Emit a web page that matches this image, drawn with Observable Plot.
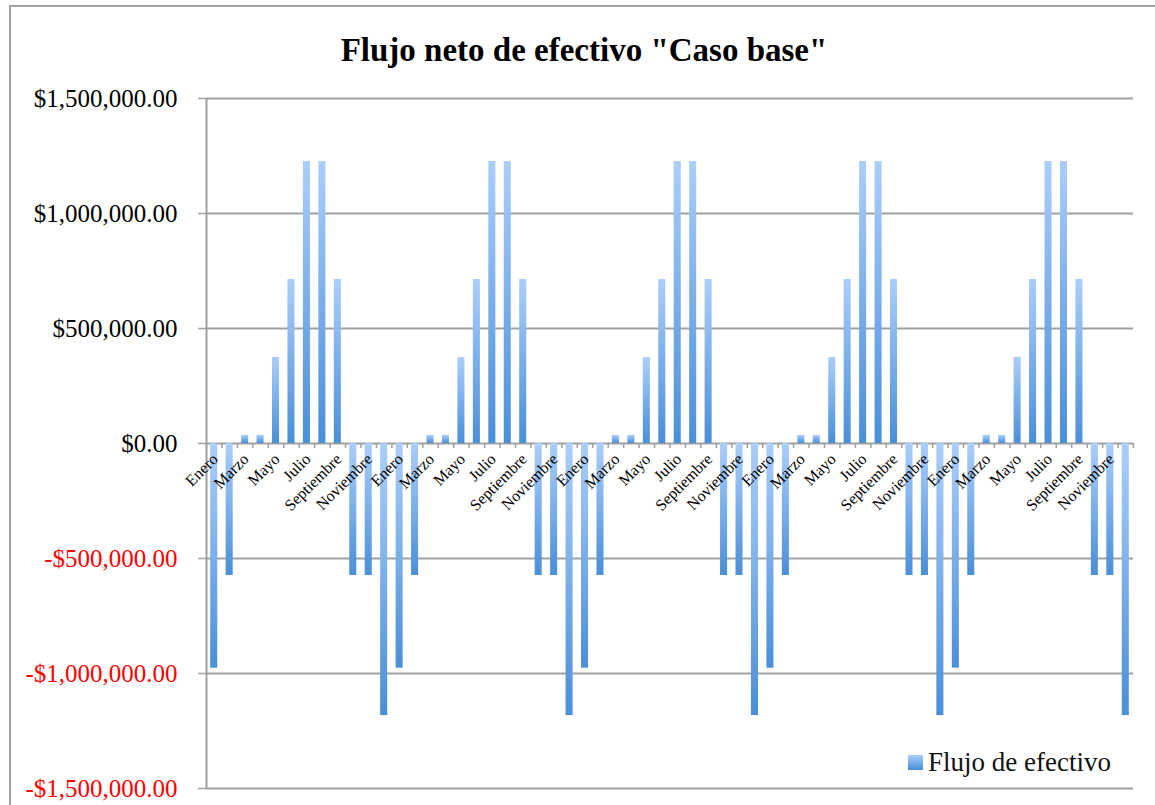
<!DOCTYPE html>
<html>
<head>
<meta charset="utf-8">
<script src="https://cdn.jsdelivr.net/npm/d3@7"></script>
<script src="https://cdn.jsdelivr.net/npm/@observablehq/plot@0.6"></script>
<style>
  html, body { margin: 0; padding: 0; background: #fff; }
  #wrap { position: relative; width: 1155px; height: 805px; overflow: hidden; font-family: "Liberation Serif", serif; }
  #frame { position: absolute; left: 9px; top: 5px; width: 1200px; height: 900px; border: 2px solid #a3a3a3; box-sizing: border-box; }
  #title { position: absolute; left: 9px; width: 1150px; top: 34px; text-align: center; font-weight: bold; font-size: 33px; line-height: 33px; color: #000; }
  #legend { position: absolute; left: 908px; top: 747px; display: flex; align-items: center; font-size: 27px; color: #111; }
  #legend .sw { width: 15px; height: 15px; background: linear-gradient(#a9cdfb, #4a8fd8); margin-right: 5px; }
  #chart { position: absolute; left: 0; top: 0; }
</style>
</head>
<body>
<div id="wrap">
  <div id="frame"></div>
  <div id="chart"></div>
  <div id="title">Flujo neto de efectivo "Caso base"</div>
  <div id="legend"><div class="sw"></div><span>Flujo de efectivo</span></div>
</div>
<script>
const meses = ["Enero","Febrero","Marzo","Abril","Mayo","Junio","Julio","Agosto","Septiembre","Octubre","Noviembre","Diciembre"];
const flujoAnio1 = [-977000, -574000, 35000, 35000, 374000, 713000, 1226000, 1226000, 713000, -574000, -574000, -1183000];
const flujoAnio2 = [-977000, -574000, 35000, 35000, 374000, 713000, 1226000, 1226000, 713000, -574000, -574000, -1183000];
const flujoAnio3 = [-977000, -574000, 35000, 35000, 374000, 713000, 1226000, 1226000, 713000, -574000, -574000, -1183000];
const flujoAnio4 = [-977000, -574000, 35000, 35000, 374000, 713000, 1226000, 1226000, 713000, -574000, -574000, -1183000];
const flujoAnio5 = [-977000, -574000, 35000, 35000, 374000, 713000, 1226000, 1226000, 713000, -574000, -574000, -1183000];
const yTicks = [-1500000, -1000000, -500000, 0, 500000, 1000000, 1500000];

const anios = [flujoAnio1, flujoAnio2, flujoAnio3, flujoAnio4, flujoAnio5];
const rows = [];
anios.forEach((serie, a) => serie.forEach((v, m) => rows.push({i: a * 12 + m, mes: meses[m], valor: v})));
const labels = rows.filter(d => d.i % 2 === 0);
const bounds = d3.range(rows.length + 1);

const fmt = v => (v < 0 ? "-$" : "$") + d3.format(",.2f")(Math.abs(v));
const gray = "#a0a0a0";

const svg = Plot.plot({
  width: 1155,
  height: 805,
  marginTop: 98,
  marginBottom: 17,
  marginLeft: 206,
  marginRight: 22,
  style: {fontFamily: "Liberation Serif, serif", fontSize: "25px", background: "transparent", overflow: "visible"},
  x: {domain: [0, rows.length], axis: null},
  y: {domain: [-1500000, 1500000], axis: null},
  marks: [
    Plot.ruleY(yTicks, {stroke: gray, strokeWidth: 2}),
    Plot.ruleX([0], {stroke: gray, strokeWidth: 2}),
    Plot.ruleX(bounds, {x: d => d, y1: 0, y2: 0, insetBottom: -5, stroke: gray, strokeWidth: 1.5}),
    Plot.axisY(yTicks.filter(t => t >= 0), {tickSize: 8, tickPadding: 21, stroke: gray, strokeWidth: 1.5, fill: "#000", tickFormat: fmt, label: null, fontSize: 25}),
    Plot.axisY(yTicks.filter(t => t < 0), {tickSize: 8, tickPadding: 21, stroke: gray, strokeWidth: 1.5, fill: "#ff0000", tickFormat: fmt, label: null, fontSize: 25}),
    Plot.rect(rows, {x1: "i", x2: d => d.i + 1, y1: 0, y2: "valor", insetLeft: 4.2, insetRight: 4.2, fill: "url(#barGrad)", ariaLabel: "barras"}),
    Plot.text(labels, {x: d => d.i + 0.5, y: 0, text: "mes", rotate: -45, textAnchor: "end", dx: 1, dy: 13, fontSize: 16, fill: "#000"})
  ]
});

const defs = d3.select(svg).insert("defs", ":first-child");
const g = defs.append("linearGradient").attr("id", "barGrad").attr("x1", 0).attr("y1", 0).attr("x2", 0).attr("y2", 1);
g.append("stop").attr("offset", "0%").attr("stop-color", "#abcefb");
g.append("stop").attr("offset", "100%").attr("stop-color", "#4a8fd8");
const f = defs.append("filter").attr("id", "barShadow").attr("x", "-50%").attr("y", "-10%").attr("width", "200%").attr("height", "120%");
f.append("feDropShadow").attr("dx", 2).attr("dy", 3).attr("stdDeviation", 1.5).attr("flood-color", "#000").attr("flood-opacity", 0.22);
d3.select(svg).selectAll("g[aria-label='barras'] rect").attr("filter", "url(#barShadow)");

document.getElementById("chart").appendChild(svg);
</script>
</body>
</html>
